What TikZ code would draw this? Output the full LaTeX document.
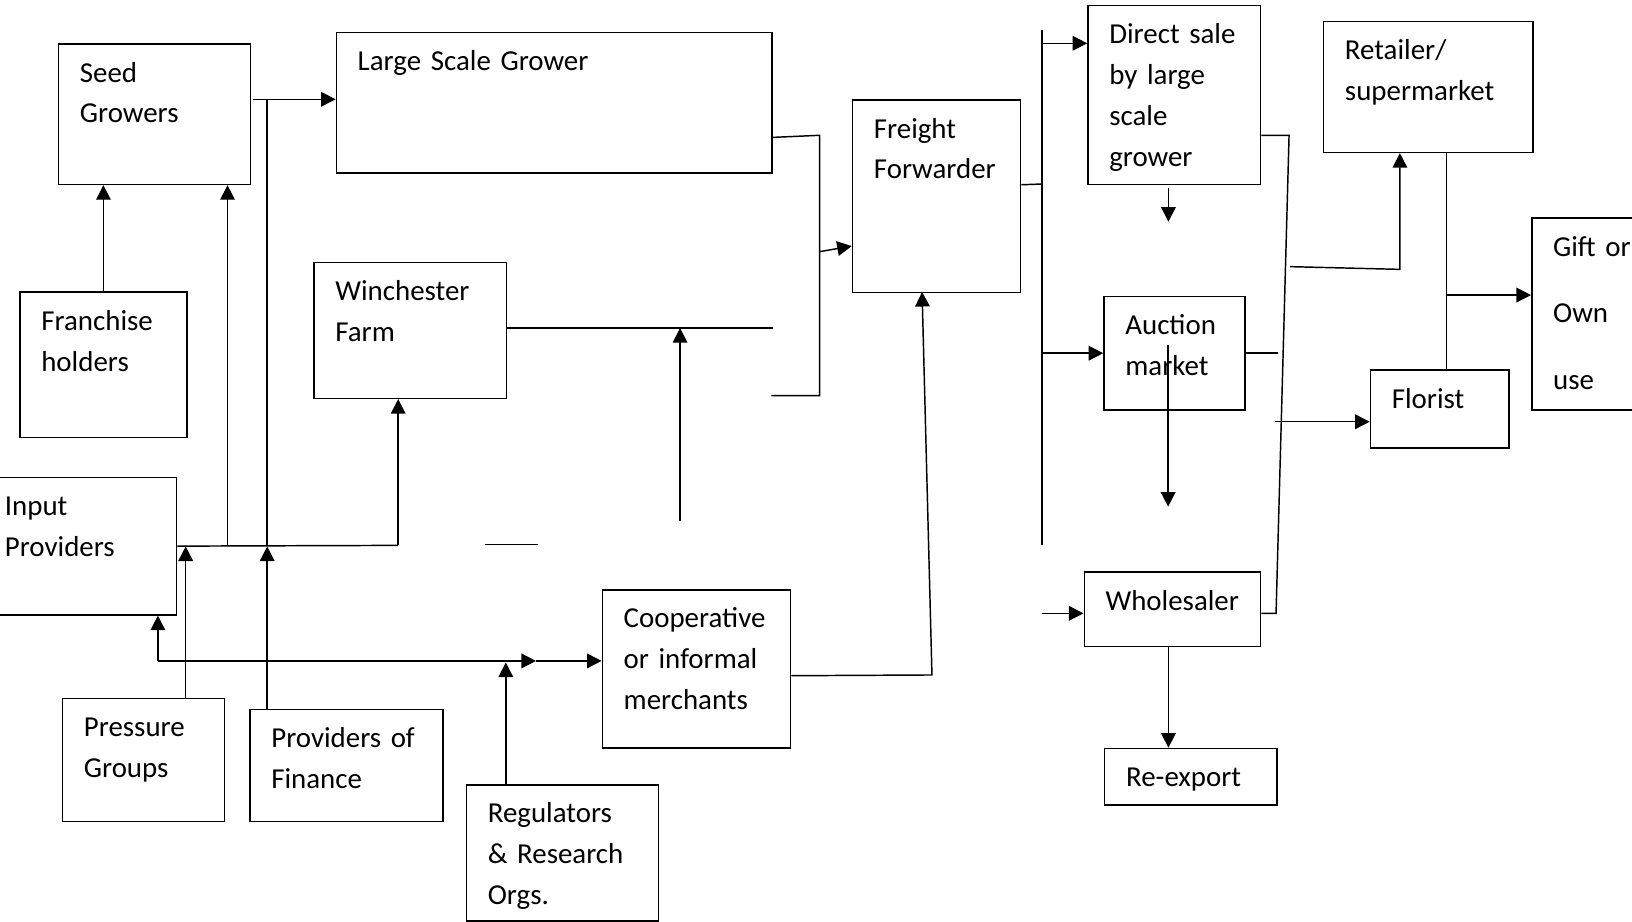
\documentclass[tikz,border=0pt]{standalone}
\usepackage{fontspec}
\setmainfont{Carlito}
\usepackage{tikz}
\usetikzlibrary{arrows.meta}
\tikzstyle{box}   = [rectangle, draw=black, line width=0.8pt, anchor=north west, inner xsep=0.41cm, inner ysep=0pt, text height=0.73cm, align=left]
\tikzstyle{link}  = [line width=0.8pt]
\tikzstyle{arrow} = [line width=0.8pt, -{Triangle[length=0.28cm, width=0.28cm]}]
\tikzset{every node/.style={font=\fontsize{15.8}{22.4}\selectfont}}

\begin{document}
\begin{tikzpicture}
    \useasboundingbox (0,0) rectangle (31.36,-17.70);
    % boxes
    \node[box, text width=2.868cm, text depth=1.968cm] (seed)     at (1.112,-0.832)   {Seed\\Growers};
    \node[box, text width=7.55cm,  text depth=1.974cm] (lsg)      at (6.45,-0.608)    {Large Scale Grower};
    \node[box, text width=2.386cm, text depth=2.062cm] (franch)   at (0.37,-5.6)      {Franchise\\holders};
    \node[box, text width=2.88cm,  text depth=1.882cm] (winch)    at (6.02,-5.028)    {Winchester\\Farm};
    \node[box, text width=2.412cm, text depth=2.972cm] (freight)  at (16.368,-1.908)  {Freight\\Forwarder};
    \node[box, text width=2.5cm,   text depth=2.704cm] (direct)   at (20.892,-0.096)  {Direct sale\\by large\\scale\\grower};
    \node[box, text width=3.2cm,   text depth=1.78cm]  (retail)   at (25.42,-0.404)   {Retailer/\\supermarket};
    \node[box, text width=2.18cm,  text depth=2.954cm, font=\fontsize{15.8}{36.4}\selectfont] (gift) at (29.42,-4.176) {Gift or\\Own\\use};
    \node[box, text width=1.886cm, text depth=1.456cm] (auction)  at (21.2,-5.68)     {Auction\\market};
    \node[box, text width=1.84cm,  text depth=0.768cm] (florist)  at (26.32,-7.096)   {Florist};
    \node[box, text width=2.89cm,  text depth=1.91cm]  (input)    at (-0.33,-9.16)    {Input\\Providers};
    \node[box, text width=2.292cm, text depth=1.628cm] (pressure) at (1.188,-13.412)  {Pressure\\Groups};
    \node[box, text width=2.886cm, text depth=1.42cm]  (finance)  at (4.79,-13.62)    {Providers of\\Finance};
    \node[box, text width=2.87cm,  text depth=1.884cm] (regul)    at (8.95,-15.066)   {Regulators\\\& Research\\Orgs.};
    \node[box, text width=2.8cm,   text depth=2.306cm] (coop)     at (11.56,-11.32)   {Cooperative\\or informal\\merchants};
    \node[box, text width=2.572cm, text depth=0.698cm] (whole)    at (20.82,-10.98)   {Wholesaler};
    \node[box, text width=2.486cm, text depth=0.352cm] (reexp)    at (21.214,-14.368) {Re-export};

    % junction points
    \coordinate (sgout) at (4.86,-1.908);
    \coordinate (sgup)  at (4.372,-10.48);
    \coordinate (lsgup) at (5.134,-10.48);
    \coordinate (wup)   at (7.652,-10.48);
    \coordinate (pgup)  at (3.568,-10.5);
    \coordinate (fpup)  at (5.134,-10.5);
    \coordinate (ipin)  at (3.034,-12.7);
    \coordinate (mid)   at (10.3,-12.7);
    \coordinate (rgup)  at (9.72,-12.73);
    \coordinate (wmup)  at (13.068,-10.02);
    \coordinate (dash1) at (9.32,-10.46);
    \coordinate (dash2) at (10.34,-10.46);
    \coordinate (ffin1) at (15.75,-2.6);
    \coordinate (ffin2) at (15.75,-7.604);
    \coordinate (ffin3) at (14.82,-7.604);
    \coordinate (ffarr) at (15.75,-4.836);
    \coordinate (fftip) at (16.368,-4.728);
    \coordinate (cbend) at (17.908,-12.97);
    \coordinate (cbtip) at (17.718,-5.61);
    \coordinate (bus0)  at (20.02,-3.536);
    \coordinate (bustop) at (20.02,-0.576);
    \coordinate (busbot) at (20.02,-10.472);
    \coordinate (dirin) at (20.02,-0.832);
    \coordinate (whin)  at (20.014,-11.786);
    \coordinate (dd1)   at (22.452,-3.606);
    \coordinate (dd2)   at (22.452,-4.26);
    \coordinate (am1)   at (22.446,-6.63);
    \coordinate (am2)   at (22.446,-9.736);
    \coordinate (wsl1)  at (24.52,-11.786);
    \coordinate (wsl2)  at (24.77,-2.6);
    \coordinate (rt1)   at (24.79,-5.124);
    \coordinate (rt2)   at (26.9,-5.176);
    \coordinate (fl1)   at (24.496,-8.104);
    \coordinate (rf)    at (27.8,-5.67);

    % growers side
    \draw [arrow] (sgout) -- (sgout -| lsg.west);
    \draw [arrow] (franch.north) -- (franch.north |- seed.south);
    \draw [link]  (input.east) -- (wup);
    \draw [arrow] (wup) -- (wup |- winch.south);
    \draw [arrow] (sgup) -- (sgup |- seed.south);
    \draw [link]  (lsgup) -- (lsgup |- sgout);
    \draw [arrow] (pgup |- pressure.north) -- (pgup);
    \draw [arrow] (fpup |- finance.north) -- (fpup);
    \draw [arrow] (ipin) -- (ipin |- input.south);
    \draw [arrow] (ipin) -- (mid);
    \draw [arrow] (mid) -- (mid -| coop.west);
    \draw [arrow] (rgup |- regul.north) -- (rgup);
    \draw [link]  ([yshift=0.044cm]winch.east) -- ([yshift=0.044cm]winch.east -| lsg.east);
    \draw [arrow] (wmup) -- ([yshift=0.044cm]wmup |- winch.east);
    \draw [link]  (dash1) -- (dash2);

    % to freight forwarder
    \draw [link]  ([yshift=-0.666cm]lsg.east) -- (ffin1) -- (ffin2) -- (ffin3);
    \draw [arrow] (ffarr) -- (fftip);
    \draw [arrow] ([yshift=-0.132cm]coop.east) -- (cbend) -- (cbtip);

    % market side
    \draw [link]  ([yshift=0.223cm]freight.east) -- (bus0);
    \draw [link]  (bustop) -- (busbot);
    \draw [arrow] (dirin) -- (dirin -| direct.west);
    \draw [arrow] (auction.west -| bustop) -- (auction.west);
    \draw [arrow] (whin) -- (whin -| whole.west);
    \draw [arrow] (dd1) -- (dd2);
    \draw [arrow] (am1) -- (am2);
    \draw [link]  (auction.east) -- ++(0.628,0);
    \draw [link]  (whin -| whole.east) -- (wsl1) -- (wsl2) -- (wsl2 -| direct.east);
    \draw [arrow] (whole.south -| dd1) -- (reexp.north -| dd1);
    \draw [arrow] (rt1) -- (rt2) -- (rt2 |- retail.south);
    \draw [arrow] (fl1) -- (fl1 -| florist.west);
    \draw [link]  (rf |- retail.south) -- (rf |- florist.north);
    \draw [arrow] (rf) -- (rf -| gift.west);
\end{tikzpicture}
\end{document}
